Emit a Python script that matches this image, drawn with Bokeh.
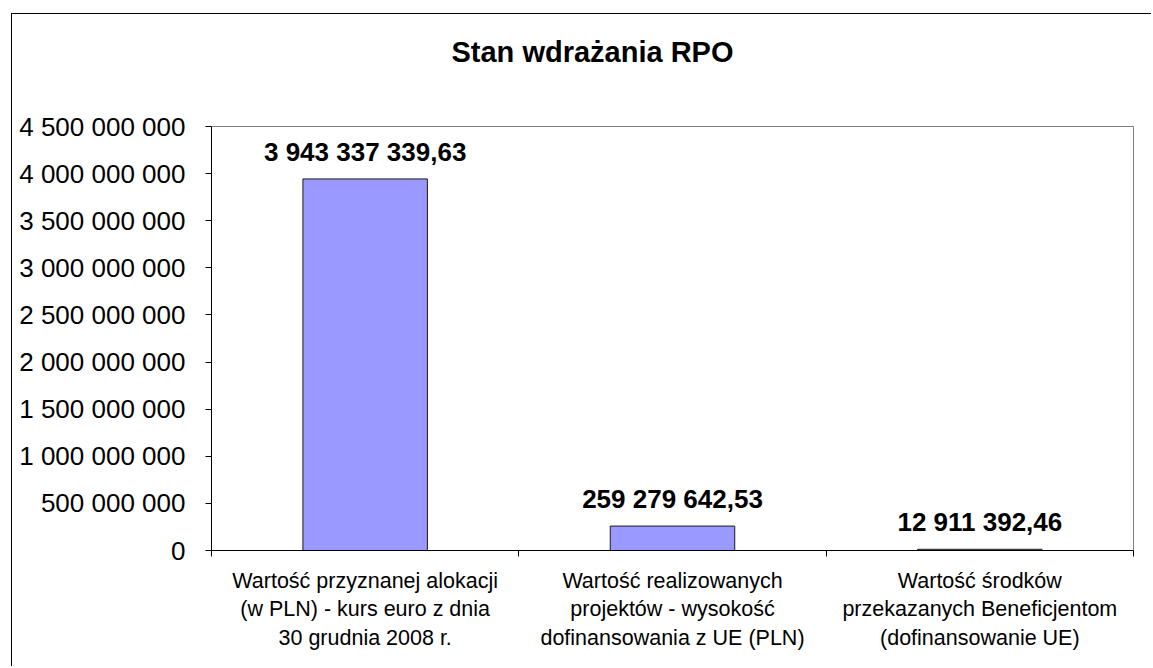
import numpy as np
from bokeh.plotting import figure
from bokeh.models import Range1d, FixedTicker, ColumnDataSource, Label
from bokeh.core.properties import value
from bokeh.embed import file_html
from bokeh.resources import INLINE

# ---- data ----
title_text = "Stan wdrażania RPO"
categories = [
    "Wartość przyznanej alokacji\n(w PLN) - kurs euro z dnia\n30 grudnia 2008 r.",
    "Wartość realizowanych\nprojektów - wysokość\ndofinansowania z UE (PLN)",
    "Wartość środków\nprzekazanych Beneficjentom\n(dofinansowanie UE)",
]
values = [3943337339.63, 259279642.53, 12911392.46]
value_labels = ["3 943 337 339,63", "259 279 642,53", "12 911 392,46"]
y_ticks = [0, 500000000, 1000000000, 1500000000, 2000000000,
           2500000000, 3000000000, 3500000000, 4000000000, 4500000000]
y_tick_labels = ["0", "500 000 000", "1 000 000 000", "1 500 000 000",
                 "2 000 000 000", "2 500 000 000", "3 000 000 000",
                 "3 500 000 000", "4 000 000 000", "4 500 000 000"]

FONT = "Liberation Sans"

# ---- layout (pixels) ----
W, H = 1140, 653
MB_LEFT, MB_RIGHT, MB_BOTTOM = 199, 17, 117
FRAME_W = W - MB_LEFT - MB_RIGHT          # 924
FRAME_H = H - MB_BOTTOM                   # 536 (frame reaches the top)
PLOT_W, PLOT_H = 922, 424                 # visible plot-area box size

n = len(categories)
y_max = y_ticks[-1]
x_pos = list(np.arange(n) + 0.5)

p = figure(
    width=W, height=H,
    x_range=Range1d(0, n * FRAME_W / PLOT_W),
    y_range=Range1d(0, y_max * FRAME_H / PLOT_H),
    output_backend="svg", toolbar_location=None,
    min_border_left=MB_LEFT, min_border_right=MB_RIGHT,
    min_border_top=0, min_border_bottom=MB_BOTTOM,
    margin=(13, 0, 0, 11),
    styles={"border-left": "1px solid #000000", "border-top": "1px solid #000000"},
)

p.background_fill_color = "white"
p.border_fill_color = "white"
p.outline_line_color = None
p.xgrid.visible = False
p.ygrid.visible = False
p.title.visible = False

# plot-area border (grey box)
p.quad(left=[0], right=[n], bottom=[0], top=[y_max],
       fill_color=None, line_color="#808080", line_width=1)

# chart title
p.add_layout(Label(
    x=(592 - 211) / PLOT_W * n, y=(550 - 51) / PLOT_H * y_max,
    text=title_text, text_align="center", text_baseline="alphabetic",
    text_font=FONT, text_font_size="29px", text_font_style="bold",
    text_color="black",
))

# bars
src = ColumnDataSource(dict(x=x_pos, top=values, lab=value_labels))
p.vbar(x="x", top="top", bottom=0, width=0.405, source=src,
       fill_color="#9999FF", line_color="#1a1a1a", line_width=1)

p.text(x="x", y="top", text="lab", source=src,
       text_align="center", text_baseline="alphabetic", y_offset=-27,
       text_font=value(FONT), text_font_style="bold",
       text_font_size="26px", text_color="black")

# y axis
ya = p.yaxis[0]
ya.bounds = (0, y_max)
ya.ticker = FixedTicker(ticks=y_ticks, minor_ticks=[])
ya.major_label_overrides = {t: l for t, l in zip(y_ticks, y_tick_labels)}
ya.axis_line_color = "black"
ya.major_tick_line_color = "black"
ya.major_tick_out = 6
ya.major_tick_in = 0
ya.minor_tick_line_color = None
ya.major_label_standoff = 20
ya.major_label_text_font = FONT
ya.major_label_text_font_size = "26px"
ya.major_label_text_color = "black"

# x axis
xa = p.xaxis[0]
xa.bounds = (0, n)
xa.ticker = FixedTicker(ticks=x_pos, minor_ticks=list(range(n + 1)))
xa.major_label_overrides = {float(x): c for x, c in zip(x_pos, categories)}
xa.axis_line_color = "black"
xa.major_tick_line_color = None
xa.minor_tick_line_color = "black"
xa.minor_tick_out = 6
xa.minor_tick_in = 0
xa.major_label_standoff = 12
xa.major_label_text_font = FONT
xa.major_label_text_font_size = "21.5px"
xa.major_label_text_color = "black"
xa.major_label_text_align = "center"

open("out.html", "w").write(file_html(p, INLINE))
